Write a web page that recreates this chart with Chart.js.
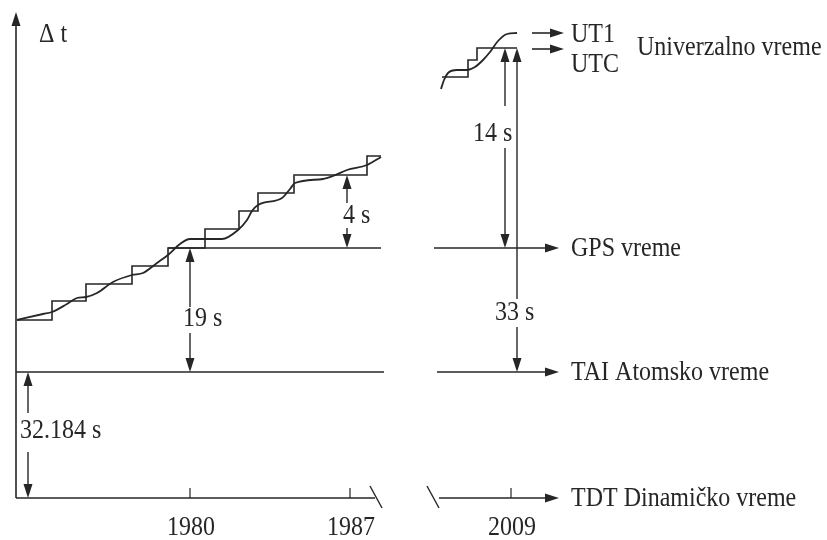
<!DOCTYPE html>
<html>
<head>
<meta charset="utf-8">
<script src="https://cdn.jsdelivr.net/npm/chart.js@4"></script>
<style>
  html, body { margin: 0; padding: 0; background: #fff; }
  #wrap { width: 827px; height: 540px; }
</style>
</head>
<body>
<div id="wrap"><canvas id="myChart"></canvas></div>
<script>
// diagram units: x to the right, y downwards (0..827, 0..540)

// UTC staircase, left block (x where the leap second is added, new level)
var utcStepX = [17, 52, 86, 132, 168, 205, 239, 258, 294, 367, 381];
var utcStepY = [320, 301, 284, 266, 248, 229, 211, 193, 175, 156, 156];
// UT1 smooth curve, left block
var ut1X = [17, 43, 52, 67, 77, 86, 97, 113, 132, 143, 157, 168, 180, 190, 205, 222, 238, 247, 252, 258, 282, 290, 295, 323, 333, 347, 367, 381];
var ut1Y = [320, 314, 312, 304, 298, 297, 293, 282, 275, 273, 263, 255, 244, 239, 239, 239, 230, 220, 211, 205, 198, 189, 183, 179, 176, 170, 165, 157];

// right block (around 2009)
var utcStepX2 = [442, 468, 477, 517];
var utcStepY2 = [77, 60, 48, 48];
var ut1X2 = [441, 444, 448, 457, 467, 475, 483, 490, 498, 507, 517];
var ut1Y2 = [89, 80, 73, 70, 70, 67, 60, 52, 41, 34, 33];

// time scales (horizontal reference lines)
var levelNames = ['TDT Dinamičko vreme', 'TAI Atomsko vreme', 'GPS vreme'];
var levelY = [498, 372, 248];
var levelStartX = [16, 16, 168];
var levelBreakX = [375, 384, 381];
var levelResumeX = [439, 437, 434];

// years on the time axis
var yearLabels = ['1980', '1987', '2009'];
var yearX = [190, 350, 511];

// offsets between scales
var gapLabels = ['32.184 s', '19 s', '4 s', '14 s', '33 s'];
var gapX = [28, 190, 347, 505, 517];
var gapTop = [372, 248, 175, 48, 48];
var gapBottom = [498, 372, 248, 248, 372];

var INK = '#262626';

function pts(xs, ys) {
    var out = [];
    for (var i = 0; i < xs.length; i++) out.push({ x: xs[i], y: ys[i] });
    return out;
}

function line(data, extra) {
    var ds = {
        data: data,
        showLine: true,
        borderColor: INK,
        borderWidth: 1.6,
        pointRadius: 0,
        fill: false,
        clip: false
    };
    for (var k in extra) ds[k] = extra[k];
    return ds;
}

var datasets = [
    line(pts(utcStepX, utcStepY), { stepped: 'before' }),
    line(pts(ut1X, ut1Y), { cubicInterpolationMode: 'monotone', borderWidth: 1.8 }),
    line(pts(utcStepX2, utcStepY2), { stepped: 'before' }),
    line(pts(ut1X2, ut1Y2), { cubicInterpolationMode: 'monotone', borderWidth: 1.8 })
];
for (var i = 0; i < levelY.length; i++) {
    datasets.push(line([{ x: levelStartX[i], y: levelY[i] }, { x: levelBreakX[i], y: levelY[i] }], {}));
    datasets.push(line([{ x: levelResumeX[i], y: levelY[i] }, { x: 548, y: levelY[i] }], {}));
}

// arrows, ticks and texts
var decor = {
    id: 'decor',
    afterDatasetsDraw: function (chart) {
        var ctx = chart.ctx;
        var sx = chart.scales.x, sy = chart.scales.y;
        function X(v) { return sx.getPixelForValue(v); }
        function Y(v) { return sy.getPixelForValue(v); }
        function seg(x1, y1, x2, y2, w) {
            ctx.beginPath();
            ctx.lineWidth = w || 1.6;
            ctx.moveTo(X(x1), Y(y1));
            ctx.lineTo(X(x2), Y(y2));
            ctx.stroke();
        }
        function head(x, y, dir) {
            // dir: 'up' | 'down' | 'right'
            var px = X(x), py = Y(y), L = 14, W = 4.5;
            ctx.beginPath();
            ctx.moveTo(px, py);
            if (dir === 'up') { ctx.lineTo(px - W, py + L); ctx.lineTo(px + W, py + L); }
            if (dir === 'down') { ctx.lineTo(px - W, py - L); ctx.lineTo(px + W, py - L); }
            if (dir === 'right') { ctx.lineTo(px - L, py - W); ctx.lineTo(px - L, py + W); }
            ctx.closePath();
            ctx.fill();
        }
        function text(s, x, y, align) {
            // the print is a little taller than the plain font
            ctx.save();
            ctx.textAlign = align || 'left';
            ctx.translate(X(x), Y(y));
            ctx.scale(1, 1.12);
            ctx.fillText(s, 0, 0);
            ctx.restore();
        }

        ctx.save();
        ctx.strokeStyle = INK;
        ctx.fillStyle = INK;
        ctx.font = '24px "Liberation Serif", "Times New Roman", serif';
        ctx.textBaseline = 'middle';

        // vertical axis
        seg(16, 498, 16, 22);
        head(16, 12, 'up');
        text('\u0394 t', 39, 35);

        // axis break slashes
        seg(370, 486, 382, 508, 1.4);
        seg(427, 486, 439, 508, 1.4);

        // arrow heads and names of the scale lines
        for (var i = 0; i < levelY.length; i++) {
            head(559, levelY[i], 'right');
            text(levelNames[i], 571, levelY[i] + 1);
        }

        // year ticks
        for (var j = 0; j < yearX.length; j++) {
            seg(yearX[j], 488, yearX[j], 498, 1.2);
            text(yearLabels[j], yearX[j] + 1, 528, 'center');
        }

        // UT1 / UTC
        seg(532, 33, 553, 33);
        head(564, 33, 'right');
        seg(532, 49, 553, 49);
        head(564, 49, 'right');
        text('UT1', 571, 35);
        text('UTC', 571, 65);
        text('Univerzalno vreme', 637, 48);

        // offset arrows with their labels
        var labelPos = [[20, 431, 'left'], [183, 319, 'left'], [343, 216, 'left'], [473, 134, 'left'], [495, 313, 'left']];
        var breakFrom = [413, 307, 203, 106, 299];
        var breakTo = [452, 333, 228, 148, 327];
        for (var k = 0; k < gapLabels.length; k++) {
            var gx = gapX[k];
            seg(gx, gapTop[k] + 10, gx, breakFrom[k], 1.4);
            seg(gx, breakTo[k], gx, gapBottom[k] - 10, 1.4);
            head(gx, gapTop[k], 'up');
            head(gx, gapBottom[k], 'down');
            text(gapLabels[k], labelPos[k][0], labelPos[k][1], labelPos[k][2]);
        }
        ctx.restore();
    }
};

new Chart('myChart', {
    type: 'scatter',
    data: { datasets: datasets },
    options: {
        responsive: true,
        maintainAspectRatio: false,
        animation: false,
        layout: { padding: 0 },
        plugins: { legend: { display: false }, tooltip: { enabled: false } },
        scales: {
            x: { type: 'linear', min: 0, max: 827, display: false },
            y: { type: 'linear', min: 0, max: 540, reverse: true, display: false }
        }
    },
    plugins: [decor]
});
</script>
</body>
</html>
